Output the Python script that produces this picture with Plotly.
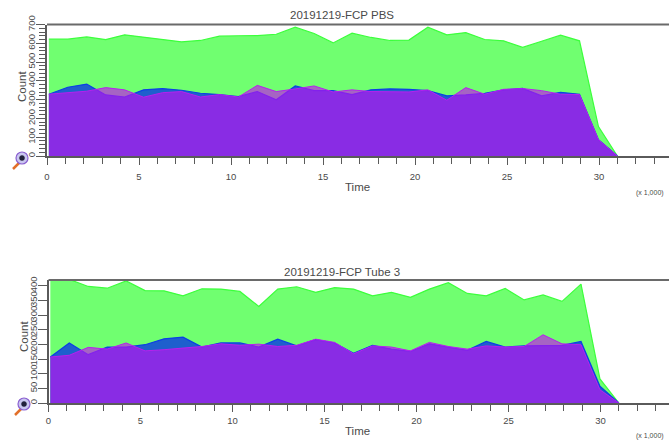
import plotly.graph_objects as go

W, H = 669, 446
time_k = [0.1, 1.13, 2.16, 3.19, 4.22, 5.25, 6.28, 7.31, 8.34, 9.37, 10.4, 11.43, 12.46, 13.49, 14.52, 15.55,
          16.58, 17.61, 18.64, 19.67, 20.7, 21.73, 22.76, 23.79, 24.82, 25.85, 26.88, 27.91, 28.94, 29.97, 31.0]

pbs_green = [622, 622, 634, 620, 645, 634, 622, 608, 615, 638, 640, 641, 648, 686, 652, 602,
             654, 631, 615, 617, 686, 645, 657, 620, 613, 578, 611, 643, 613, 157, 0]
pbs_blue = [329, 366, 383, 325, 314, 352, 359, 350, 334, 327, 316, 343, 299, 373, 348, 348,
            327, 352, 357, 355, 348, 320, 325, 334, 352, 360, 320, 339, 329, 87, 0]
pbs_magenta = [329, 336, 345, 364, 352, 313, 337, 343, 314, 327, 314, 376, 343, 357, 373, 341,
               352, 343, 341, 341, 352, 297, 364, 329, 355, 359, 348, 329, 327, 87, 0]

tube_green = [422, 422, 398, 392, 417, 384, 383, 366, 390, 389, 381, 330, 389, 397, 378, 394,
              389, 366, 378, 361, 389, 411, 374, 366, 391, 352, 369, 347, 406, 82, 0]
tube_blue = [157, 205, 165, 191, 191, 199, 219, 225, 191, 205, 205, 191, 218, 195, 216, 205,
             170, 197, 184, 176, 202, 191, 180, 210, 191, 195, 197, 197, 210, 57, 0]
tube_magenta = [157, 163, 190, 184, 205, 178, 182, 188, 193, 202, 197, 201, 193, 197, 218, 207,
                168, 195, 191, 178, 207, 193, 184, 195, 191, 193, 233, 202, 199, 45, 0]

titles = ["20191219-FCP PBS", "20191219-FCP Tube 3"]
x_ticks = [0, 5, 10, 15, 20, 25, 30]
pbs_y_ticks = [0, 100, 200, 300, 400, 500, 600, 700]
tube_y_ticks = [0, 50, 100, 150, 200, 250, 300, 350, 400]

TXT = "#4a4a4a"
AX = "#5a5a5a"
FONT = "Liberation Sans"

fig = go.Figure()

def add_panel(g, b, m, xa, ya):
    fig.add_trace(go.Scatter(x=time_k, y=g, mode="lines", fill="tozeroy", fillcolor="#70ff70",
                             line=dict(color="#3cff3c", width=1.2), xaxis=xa, yaxis=ya, showlegend=False))
    fig.add_trace(go.Scatter(x=time_k, y=b, mode="lines", fill="tozeroy", fillcolor="#1e5fcd",
                             line=dict(color="#0c3fe6", width=1.2), xaxis=xa, yaxis=ya, showlegend=False))
    fig.add_trace(go.Scatter(x=time_k, y=m, mode="lines", fill="tozeroy", fillcolor="rgba(195,17,240,0.65)",
                             line=dict(color="#b820ee", width=1.0), xaxis=xa, yaxis=ya, showlegend=False))

add_panel(pbs_green, pbs_blue, pbs_magenta, "x", "y")
add_panel(tube_green, tube_blue, tube_magenta, "x2", "y2")

def xaxis(x0, standoff):
    return dict(domain=[x0 / W, 1], range=[0, (W - x0) / 18.4], tickmode="array", tickvals=x_ticks,
                automargin=False, ticklabelstandoff=standoff,
                ticks="outside", ticklen=7, tickwidth=1, tickcolor=AX, showgrid=False, zeroline=False,
                showline=True, linecolor=AX, linewidth=1.5,
                tickfont=dict(size=9.5, color=TXT, family=FONT),
                minor=dict(dtick=1, ticks="outside", ticklen=6, tickcolor=AX, tickwidth=1, showgrid=False))

def yaxis(top, bottom, rng, vals, minor):
    return dict(domain=[1 - bottom / H, 1 - top / H], range=rng, tickmode="array", tickvals=vals,
                automargin=False, ticklabelstandoff=-3,
                ticks="outside", ticklen=9, tickwidth=1, tickcolor=AX, showgrid=False, zeroline=False,
                showline=True, linecolor=AX, linewidth=1.5, tickangle=-90,
                tickfont=dict(size=9.5, color=TXT, family=FONT),
                minor=dict(dtick=minor, ticks="outside", ticklen=6, tickcolor=AX, tickwidth=1, showgrid=False))

ann = []
def label(text, px, py, size, angle=0):
    ann.append(dict(text=text, x=px / W, y=1 - py / H, xref="paper", yref="paper", showarrow=False,
                    xanchor="center", yanchor="middle", textangle=angle,
                    font=dict(size=size, color=TXT, family=FONT)))

label(titles[0], 342, 15, 11.5)
label("Count", 22, 87, 11.5, -90)
label("Time", 358, 187, 11.5)
label("(x 1,000)", 650, 193, 7)
label(titles[1], 342, 272, 11.5)
label("Count", 24, 337, 11.5, -90)
label("Time", 358, 431, 11.5)
label("(x 1,000)", 650, 436, 7)

shapes = []
def hline(x0, y, color=AX, width=1.5):
    shapes.append(dict(type="line", xref="paper", yref="paper", x0=x0 / W, x1=1,
                       y0=1 - y / H, y1=1 - y / H, line=dict(color=color, width=width), layer="above"))

def lens(cx, cy):
    shapes.append(dict(type="line", xref="paper", yref="paper", x0=(cx - 9) / W, y0=1 - (cy + 11) / H,
                       x1=(cx - 3) / W, y1=1 - (cy + 5) / H, line=dict(color="#e2702a", width=2.5)))
    shapes.append(dict(type="circle", xref="paper", yref="paper", x0=(cx - 6) / W, x1=(cx + 6) / W,
                       y0=1 - (cy + 6) / H, y1=1 - (cy - 6) / H,
                       fillcolor="#c9c6ef", line=dict(color="#8a5fd0", width=1.2)))
    shapes.append(dict(type="circle", xref="paper", yref="paper", x0=(cx - 2.5) / W, x1=(cx + 2.5) / W,
                       y0=1 - (cy + 2.5) / H, y1=1 - (cy - 2.5) / H,
                       fillcolor="#20203a", line=dict(color="#20203a", width=0.5)))

hline(47, 24.5, "#6a6a6a", 2)
hline(48.5, 280, "#6a6a6a", 2)
lens(22, 158)
lens(24, 404)

fig.update_layout(
    width=W, height=H, autosize=False, margin=dict(l=0, r=0, t=0, b=0),
    paper_bgcolor="white", plot_bgcolor="white", showlegend=False,
    xaxis=xaxis(47, 4), yaxis=yaxis(24.5, 156, [0, 700], pbs_y_ticks, 20),
    xaxis2=dict(xaxis(48.5, 1), anchor="y2"), yaxis2=dict(yaxis(280, 403, [0, 420], tube_y_ticks, 50), anchor="x2"),
    annotations=ann, shapes=shapes,
)
fig.write_html("out.html", config={"displayModeBar": False},
               post_script="document.body.style.margin='0';document.documentElement.style.overflow='hidden';")
